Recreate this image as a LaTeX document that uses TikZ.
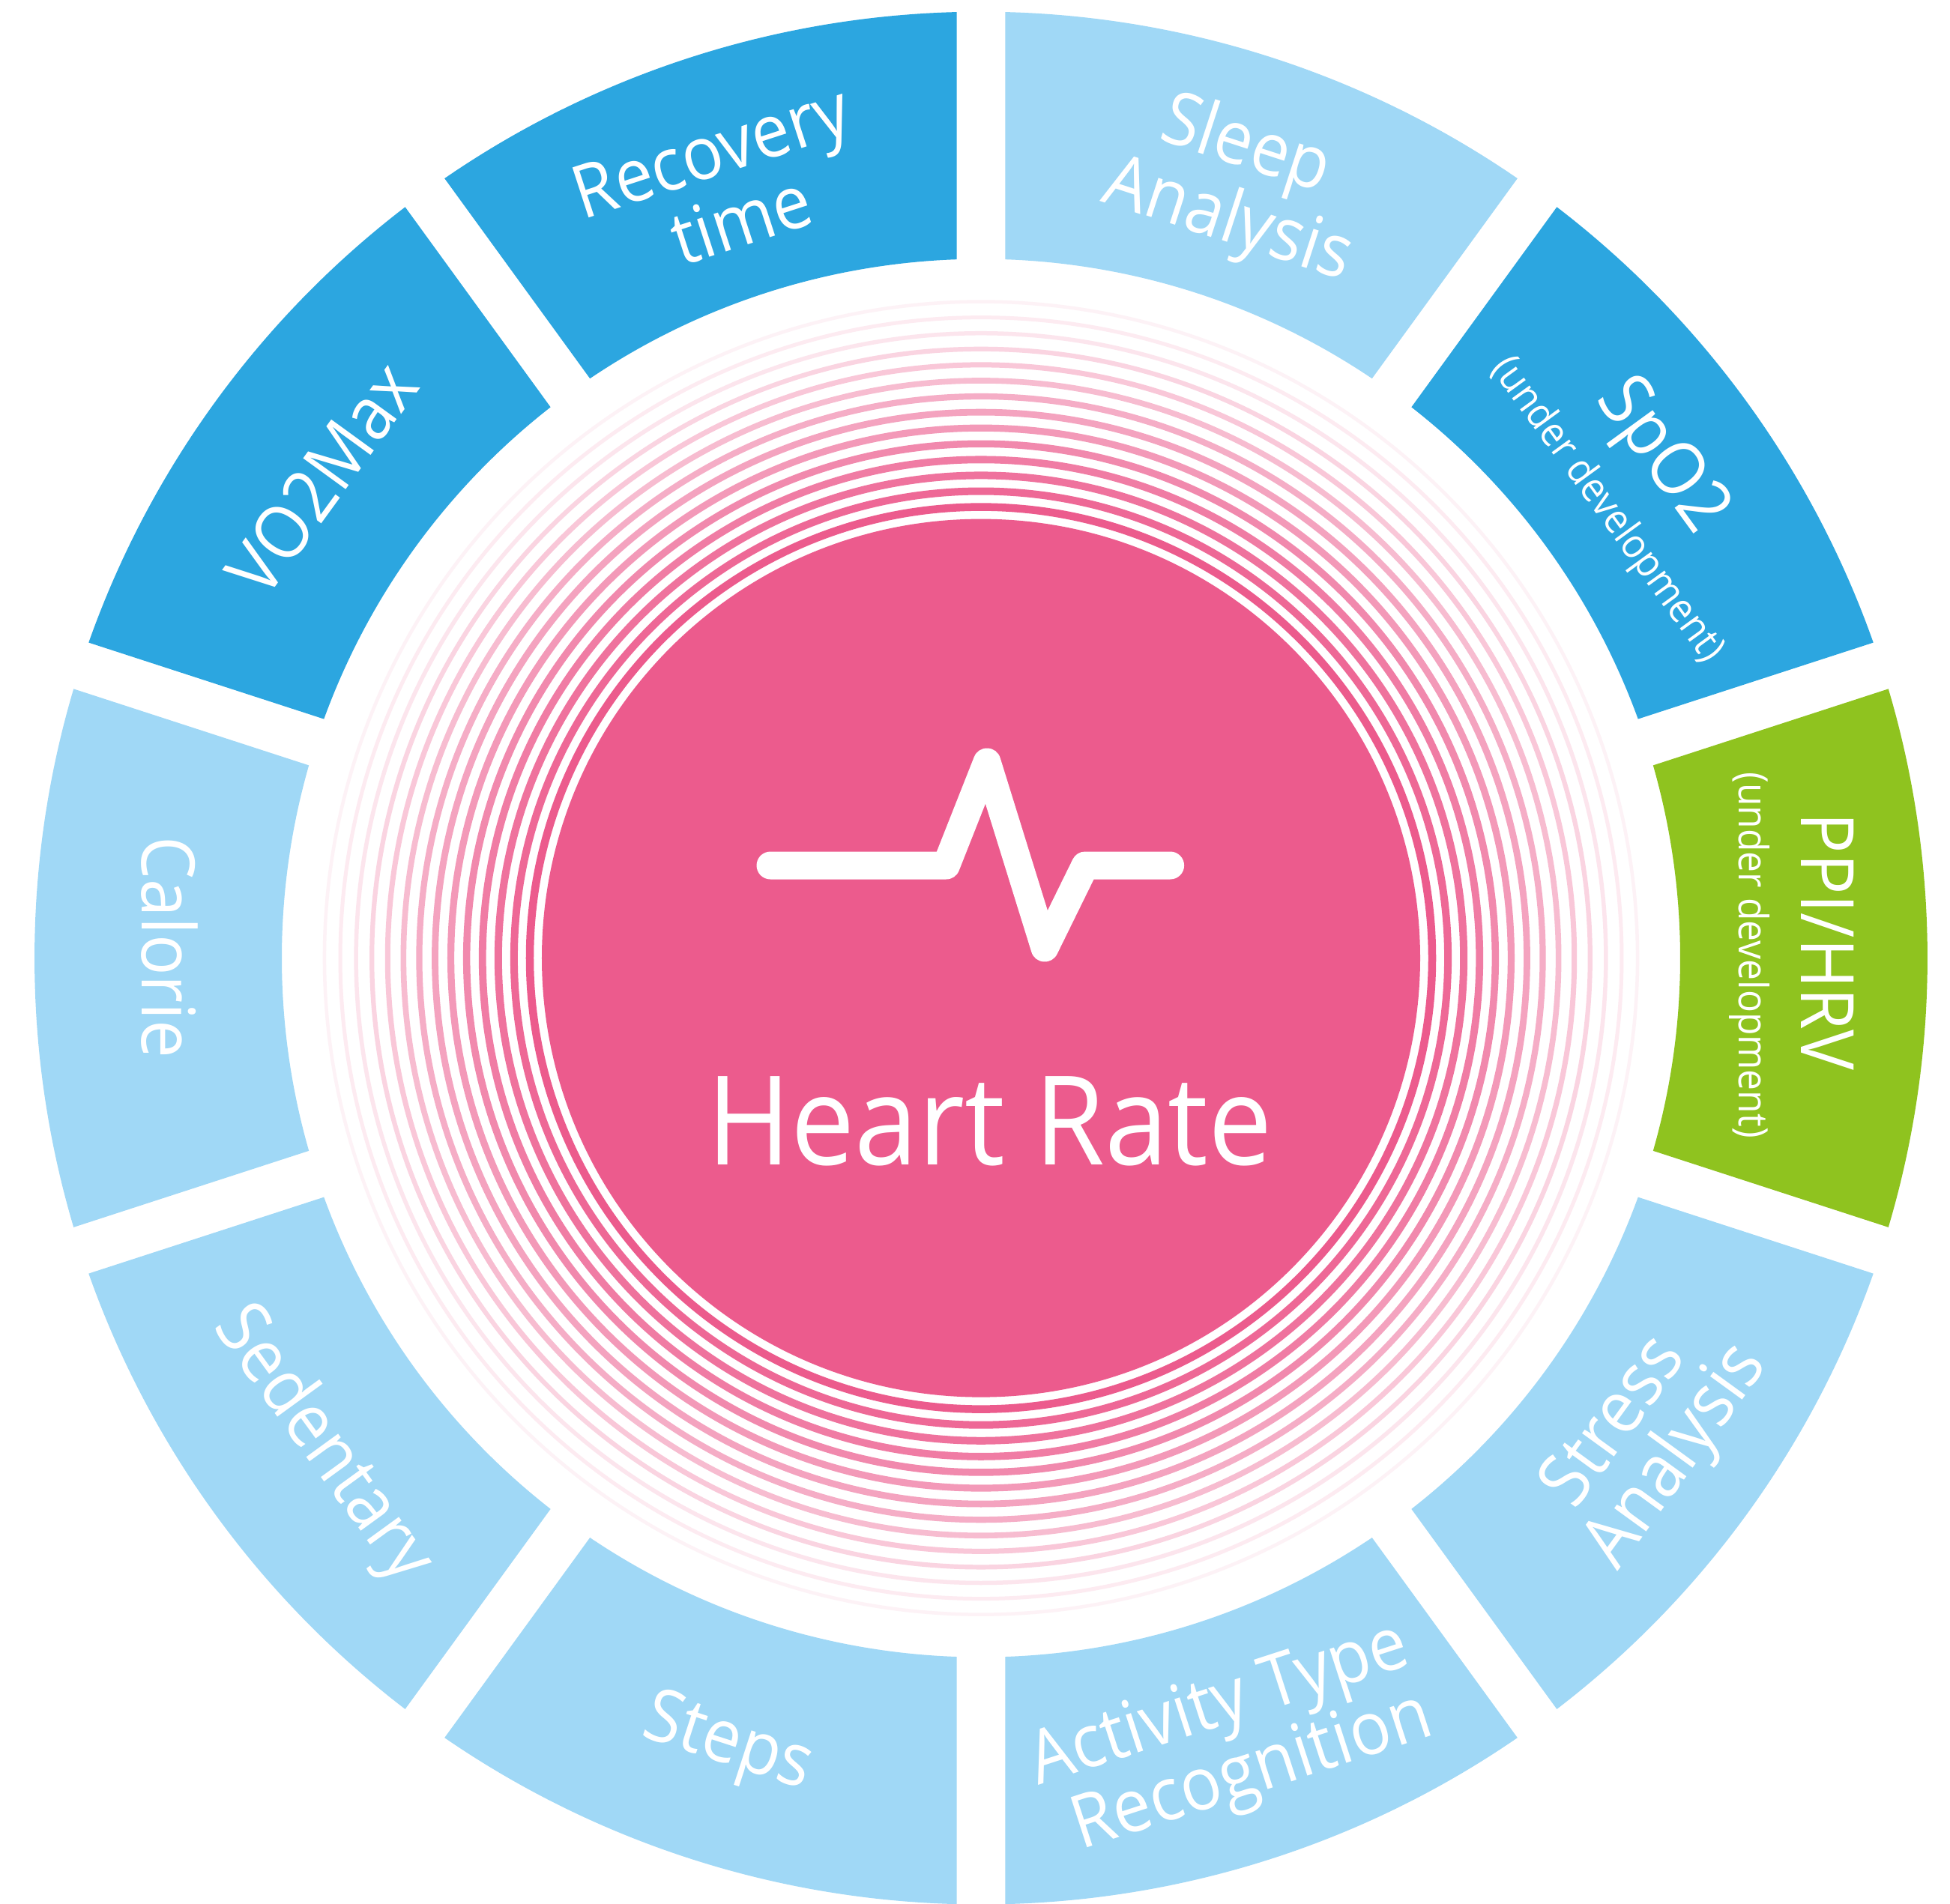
\documentclass[tikz,border=0pt]{standalone}
\usepackage{fontspec}
\setmainfont[FakeStretch=0.92]{Open Sans}
\definecolor{dkblue}{HTML}{2CA6E0}
\definecolor{ltblue}{HTML}{A0D8F6}
\definecolor{leaf}{HTML}{8FC31F}
\definecolor{rose}{HTML}{EC5B8D}
\tikzset{
  lab/.style={text=white,inner sep=0pt,align=center,font=\fontsize{28}{26.5}\selectfont},
  sublab/.style={text=white,inner sep=0pt,align=center,font=\fontsize{15.4}{18}\selectfont},
  bigtitle/.style={text=white,inner sep=0pt,font=\fontsize{47}{50}\selectfont},
  pulse/.style={draw=white,line width=3.7mm,line cap=round,line join=round}
}
\begin{document}
\begin{tikzpicture}
\useasboundingbox[fill=white] (-13.09,-12.614) rectangle (12.93,12.786);
% segments
\foreach \a/\c in {72/ltblue,36/dkblue,0/leaf,-36/ltblue,-72/ltblue,-108/ltblue,-144/ltblue,180/ltblue,144/dkblue,108/dkblue}{
  \fill[\c] (\a-18+1.474:12.63) arc[start angle=\a-18+1.474,end angle=\a+18-1.474,radius=12.63cm]
    -- (\a+18-1.996:9.33) arc[start angle=\a+18-1.996,end angle=\a-18+1.996,radius=9.33cm] -- cycle;
}
% rings
\foreach \k/\o/\w in {0/100/1.05,1/92/1.0,2/86/1.0,3/80/0.98,4/72/0.95,5/62/0.92,6/56/0.88,7/50/0.82,8/41/0.76,9/34/0.70,10/26/0.62,11/16/0.55,12/12/0.50,13/8/0.45}{
  \draw[color=rose!\o!white,line width=\w mm] (0,0) circle[radius={6.02+0.2108*\k}];
}
% core
\fill[rose] (0,0) circle[radius=5.86];
\draw[pulse] (-2.81,1.236) -- (-0.465,1.236) -- (0.08,2.616) -- (0.85,0.136) -- (1.39,1.236) -- (2.526,1.236);
\node[bigtitle] (hr) at (0.116,-2.18) {Heart Rate};
% labels
\node[lab,rotate=18] (recovery) at (-3.45,10.30) {Recovery\\\hspace*{2mm}time};
\node[lab,rotate=-18] (sleep) at (3.37,10.33) {Sleep\\\hspace*{1.6mm}Analysis};
\node[lab,rotate=54] (vo2) at (-8.795,6.40) {VO2Max};
\node[lab,rotate=-90] (calorie) at (-10.83,0.14) {Calorie};
\node[lab,rotate=-54] (sedentary) at (-8.795,-6.50) {Sedentary};
\node[lab,rotate=-18] (steps) at (-3.385,-10.51) {Steps};
\node[lab,rotate=18] (activity) at (3.34,-10.47) {Activity Type\\\hspace*{2.8mm}Recognition};
\node[lab,rotate=54] (stress) at (8.86,-6.49) {Stress\\\hspace*{2.4mm}Analysis};
\node[lab,rotate=-54] (spo2) at (9.06,6.68) {SpO2};
\node[sublab,rotate=-54] (spo2sub) at (8.35,5.98) {(under development)};
\node[lab,rotate=-90] (ppi) at (11.3,0.22) {PPI/HRV};
\node[sublab,rotate=-90] (ppisub) at (10.255,0.04) {(under development)};
\end{tikzpicture}
\end{document}
